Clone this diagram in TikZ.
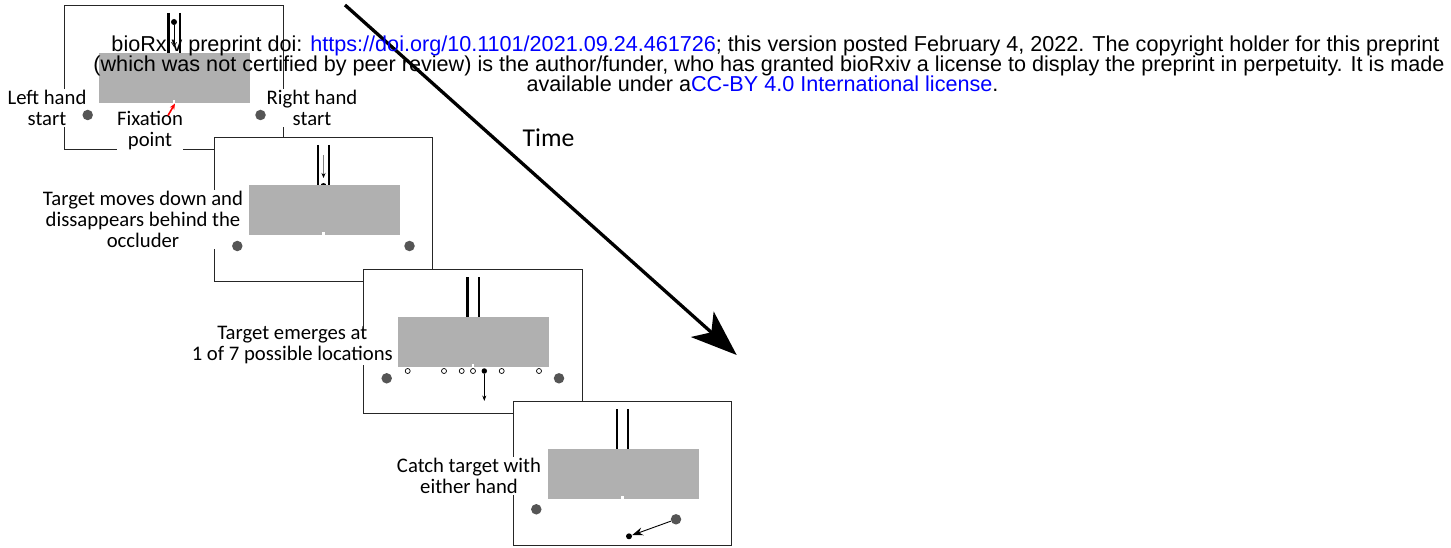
\documentclass[tikz,border=0pt]{standalone}
\usepackage{fontspec}
\setmainfont{Carlito}
\newfontfamily\headfont{Liberation Sans}
\usetikzlibrary{arrows.meta}
\definecolor{occgray}{RGB}{176,176,176}
\definecolor{handgray}{RGB}{85,85,85}
\definecolor{linkblue}{RGB}{0,0,255}
\begin{document}
\begin{tikzpicture}[x=1pt,y=-1pt,
  panelbox/.style={draw=black!85, line width=1.2pt, fill=white, inner sep=0pt, outer sep=0pt,
    minimum width=218.5pt, minimum height=144.5pt},
  occluder/.style={fill=occgray, draw=none, inner sep=0pt, outer sep=0pt,
    minimum width=151pt, minimum height=50pt},
  notch/.style={fill=white, draw=none},
  tubewall/.style={line width=2.4pt, black},
  hand/.style={circle, fill=handgray, inner sep=0pt, minimum size=10.5pt},
  slot/.style={circle, draw=black, fill=white, line width=0.7pt, inner sep=0pt, minimum size=5pt},
  target/.style={circle, fill=black, inner sep=0pt, minimum size=6pt},
  caption/.style={align=center, fill=white, inner sep=1pt, font=\fontsize{20.7}{21}\selectfont},
  header/.style={anchor=base, inner sep=0pt, font=\headfont\fontsize{21.6}{20}\selectfont}]

\useasboundingbox (0,0) rectangle (1451,548);

% ---------- panel 1: start of trial ----------
\node[panelbox] (p1) at (174,77.5) {};
\node[caption] (lhs) at (47,108) {Left hand\\start};
\node[caption] (rhs) at (312,108) {Right hand\\start};
\node[caption, inner sep=0.3pt] (fix) at (150,131) {Fixation\\point};
\begin{scope}[shift={(p1.center)}]
  \node[target] (p1dot) at (0,-55.5) {};
  \draw[tubewall] (-5.7,-64.5) -- (-5.7,-24.5);
  \draw[tubewall] (5.7,-64.5) -- (5.7,-24.5);
  \coordinate (p1fall) at (0,-30.5);
  \draw[line width=0.7pt, -{Straight Barb[length=4pt,width=5pt]}] (p1dot) -- (p1fall);
  \node[occluder] (p1occ) at (0.5,0.5) {};
  \fill[notch] (-1.3,22.8) rectangle (1.3,25.6);
  \node[hand] (p1l) at (-86.3,37.5) {};
  \node[hand] (p1r) at (86.5,37.5) {};
\end{scope}
\coordinate (fixtail) at (168,115.5);
\coordinate (fixtip) at (175,103.5);
\draw[red, line width=1.6pt, -{Stealth[length=6pt,width=5pt]}] (fixtail) -- (fixtip);

% ---------- panel 2: target falls behind the occluder ----------
\node[panelbox] (p2) at (323.5,209.5) {};
\node[caption] (movecap) at (143,219.5) {Target moves down and\\dissappears behind the\\occluder};
\begin{scope}[shift={(p2.center)}]
  \node[target] (p2dot) at (0,-23.5) {};
  \draw[tubewall] (-5.7,-64.5) -- (-5.7,-24.5);
  \draw[tubewall] (5.7,-64.5) -- (5.7,-24.5);
  \coordinate (p2a) at (0,-54.5);
  \coordinate (p2b) at (0,-31.5);
  \draw[gray, line width=0.8pt, -{Stealth[length=5pt,width=4pt,black]}] (p2a) -- (p2b);
  \node[occluder] (p2occ) at (0.5,0.5) {};
  \fill[notch] (-1.3,22.8) rectangle (1.3,25.6);
  \node[hand] (p2l) at (-86.2,36.5) {};
  \node[hand] (p2r) at (86,36.5) {};
\end{scope}

% ---------- panel 3: target reappears below ----------
\node[panelbox] (p3) at (473,341.5) {};
\node[caption] (emergecap) at (292.3,345.5) {Target emerges at\\1 of 7 possible locations};
\begin{scope}[shift={(p3.center)}]
  \draw[tubewall] (-5.7,-64.5) -- (-5.7,-24.5);
  \draw[tubewall] (5.7,-64.5) -- (5.7,-24.5);
  \node[occluder] (p3occ) at (0.5,0.5) {};
  \fill[notch] (-1.3,22.8) rectangle (1.3,25.6);
  \node[hand] (p3l) at (-86.3,36.8) {};
  \node[hand] (p3r) at (86,36.8) {};
  \foreach \sx [count=\i] in {-65.3,-29,-11.3,0,28.7,66}
    \node[slot] (p3s\i) at (\sx,29.5) {};
  \node[target, minimum size=5.5pt] (p3dot) at (11.3,29.5) {};
  \coordinate (p3end) at (11.3,59.5);
  \draw[line width=0.7pt, -{Stealth[length=5.5pt,width=4pt]}] (p3dot) -- (p3end);
\end{scope}

% ---------- panel 4: interception ----------
\node[panelbox] (p4) at (622.5,473.5) {};
\node[caption] (catchcap) at (469,476) {Catch target with\\either hand};
\begin{scope}[shift={(p4.center)}]
  \draw[tubewall] (-5.7,-64.5) -- (-5.7,-24.5);
  \draw[tubewall] (5.7,-64.5) -- (5.7,-24.5);
  \node[occluder] (p4occ) at (0.5,0.5) {};
  \fill[notch] (-1.3,22.8) rectangle (1.3,25.6);
  \node[hand] (p4l) at (-86.2,35.8) {};
  \node[hand] (p4r) at (53.5,45.8) {};
  \node[target] (p4dot) at (6.5,62.8) {};
  \draw[line width=0.9pt, -{Stealth[length=11pt,width=8pt]}] (p4r) -- (p4dot);
\end{scope}

% ---------- time axis ----------
\coordinate (tstart) at (345,5);
\coordinate (tend) at (736.7,355);
\draw[line width=3.3pt, -{Stealth[length=46pt,width=34pt,inset=12pt]}] (tstart) -- (tend);
\node[font=\fontsize{25.7}{28}\selectfont] (timelbl) at (548.5,138) {Time};

% ---------- preprint header ----------
\node[header] (h1) at (775.5,51.5) {bioRxiv preprint doi: \textcolor{linkblue}{https://doi.org/10.1101/2021.09.24.461726}; this version posted February 4, 2022. The copyright holder for this preprint};
\node[header] (h2) at (769,71.5) {(which was not certified by peer review) is the author/funder, who has granted bioRxiv a license to display the preprint in perpetuity. It is made};
\node[header] (h3) at (762.5,92) {available under a\textcolor{linkblue}{CC-BY 4.0 International license}.};
\end{tikzpicture}
\end{document}
